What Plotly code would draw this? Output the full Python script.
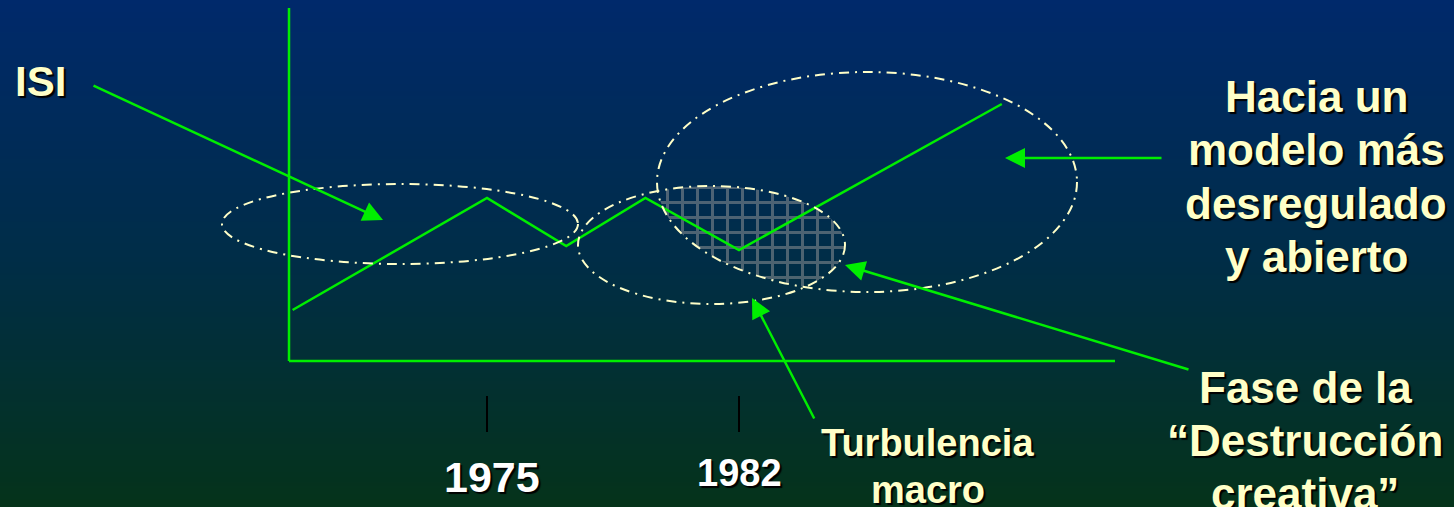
import numpy as np
import plotly.graph_objects as go

W, H = 1454, 507

# ---------------- data ----------------
years = [1969.6, 1975, 1977.2, 1979.4, 1982, 1989.3]
isi = [50, 162, 114, 162, 110, 256]
tick_years = [1975, 1982]
tick_labels = ["1975", "1982"]

# ---------------- axis scales (years / index -> canvas) ----------------
PX_PER_YEAR = 36.0
X0_YEAR, X0_PX = 1975, 487
BASE_PX = 360


def xd(px):
    return X0_YEAR + (px - X0_PX) / PX_PER_YEAR


def yd(py):
    return BASE_PX - py


def paper(px, py):
    return px / W, 1 - py / H


x_range = [xd(0), xd(W)]
y_range = [yd(H), yd(0)]

GREEN = "#00EE00"
CREAM = "#FFFFC8"
GRID = "#9A9A9A"

fig = go.Figure()

# background gradient (heatmap)
ny = 60
yy = np.linspace(y_range[0], y_range[1], ny)
zz = [[v, v] for v in np.linspace(0, 1, ny)]
fig.add_trace(go.Heatmap(
    x=x_range, y=yy, z=zz, zsmooth="best", showscale=False, hoverinfo="skip",
    colorscale=[[0, "#05331A"], [0.5, "#002D48"], [1, "#00296B"]],
))

# ellipses
ell_left = dict(cx=400, cy=224, rx=178, ry=40)
ell_mid = dict(cx=711.5, cy=245, rx=133.5, ry=59)
ell_big = dict(cx=867, cy=182, rx=210, ry=110)


def inside(e, x, y):
    return ((x - e["cx"]) / e["rx"]) ** 2 + ((y - e["cy"]) / e["ry"]) ** 2 <= 1


# hatched intersection of middle and big ellipses
t = np.linspace(0, 2 * np.pi, 721)
pts = []
for e, o in [(ell_mid, ell_big), (ell_big, ell_mid)]:
    ex = e["cx"] + e["rx"] * np.cos(t)
    ey = e["cy"] + e["ry"] * np.sin(t)
    for a, b in zip(ex, ey):
        if inside(o, a, b):
            pts.append((a, b))
cxm = np.mean([p[0] for p in pts])
cym = np.mean([p[1] for p in pts])
pts.sort(key=lambda p: np.arctan2(p[1] - cym, p[0] - cxm))
hx = [xd(p[0]) for p in pts] + [xd(pts[0][0])]
hy = [yd(p[1]) for p in pts] + [yd(pts[0][1])]
fig.add_trace(go.Scatter(
    x=hx, y=hy, mode="lines", fill="toself", line=dict(width=0),
    fillcolor="rgba(0,0,0,0)",
    fillpattern=dict(shape="+", fgcolor=GRID, bgcolor="rgba(0,0,0,0)", size=15, solidity=0.36),
    hoverinfo="skip", showlegend=False,
))

# ISI line
fig.add_trace(go.Scatter(
    x=years, y=isi, mode="lines", line=dict(color=GREEN, width=2.5),
    hoverinfo="skip", showlegend=False,
))

shapes = []
for e in [ell_left, ell_mid, ell_big]:
    x0, y1 = paper(e["cx"] - e["rx"], e["cy"] - e["ry"])
    x1, y0 = paper(e["cx"] + e["rx"], e["cy"] + e["ry"])
    shapes.append(dict(type="circle", xref="paper", yref="paper", x0=x0, x1=x1, y0=y0, y1=y1,
                       line=dict(color=CREAM, width=2, dash="10px,6px,2px,6px"), layer="above"))

# axes lines
ax_x0, ax_top = paper(289, 8)
_, ax_base = paper(289, 361)
ax_x1, _ = paper(1115, 361)
shapes.append(dict(type="line", xref="paper", yref="paper", x0=ax_x0, x1=ax_x0, y0=ax_base, y1=ax_top,
                   line=dict(color=GREEN, width=2.5), layer="above"))
shapes.append(dict(type="line", xref="paper", yref="paper", x0=ax_x0, x1=ax_x1, y0=ax_base, y1=ax_base,
                   line=dict(color=GREEN, width=2.5), layer="above"))

# tick marks at years
_, tk0 = paper(0, 396)
_, tk1 = paper(0, 432)
for yr in tick_years:
    shapes.append(dict(type="line", xref="x", yref="paper", x0=yr, x1=yr, y0=tk1, y1=tk0,
                       line=dict(color="#000000", width=2), layer="above"))

ann = []
SHADOW = "2px 2px 1px #000000"


def label(text, px, py, size, color=CREAM):
    x, y = paper(px, py)
    ann.append(dict(text="<b>%s</b>" % text, x=x, y=y, xref="paper", yref="paper",
                    xanchor="center", yanchor="middle", showarrow=False,
                    font=dict(family="Liberation Sans, Arial", size=size, color=color, shadow=SHADOW)))


# tick labels
tick_label_pos = [(492, 477, 43), (739, 473, 38)]
for lab, (px, py, fs) in zip(tick_labels, tick_label_pos):
    label(lab, px, py, fs, color="#FFFFFF")

label("ISI", 40, 82, 42)
for i, s in enumerate(["Hacia un", "modelo más", "desregulado", "y abierto"]):
    label(s, 1316, 97 + 53 * i, 44)
for i, s in enumerate(["Fase de la", "“Destrucción", "creativa”"]):
    label(s, 1305, 387 + 53 * i, 44)
for i, s in enumerate(["Turbulencia", "macro"]):
    label(s, 928, 443 + 47 * i, 38)


def arrow(tail, head):
    x, y = paper(*head)
    ann.append(dict(text="", x=x, y=y, xref="paper", yref="paper", showarrow=True,
                    ax=tail[0] - head[0], ay=tail[1] - head[1],
                    arrowhead=2, arrowsize=1.6, arrowwidth=2.5, arrowcolor=GREEN))


arrow((92, 85), (383, 220))
arrow((1163, 158), (1005, 158))
arrow((1190, 370), (845, 265))
arrow((815, 420), (752, 298))

fig.update_layout(
    width=W, height=H, margin=dict(l=0, r=0, t=0, b=0),
    paper_bgcolor="#002D48", plot_bgcolor="#002D48",
    xaxis=dict(range=x_range, visible=False, fixedrange=True),
    yaxis=dict(range=y_range, visible=False, fixedrange=True),
    shapes=shapes, annotations=ann, showlegend=False,
)
fig.write_html(
    "out.html",
    config={"displayModeBar": False},
    post_script="document.body.style.margin='0';document.body.style.overflow='hidden';",
)
